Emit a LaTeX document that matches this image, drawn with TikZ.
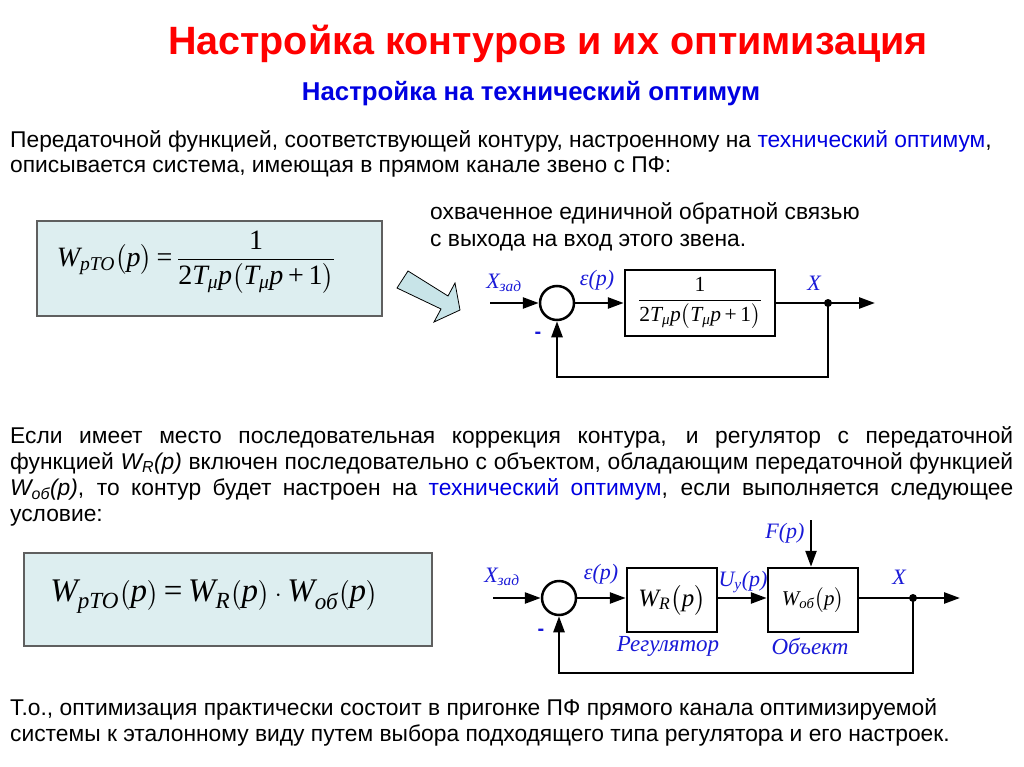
\documentclass[tikz,border=0pt]{standalone}
\usepackage{amsmath}
\usepackage{fontspec}
\setmainfont{Liberation Sans}
\newfontfamily\timesfont{Liberation Serif}
\usetikzlibrary{positioning,arrows.meta}
\definecolor{titlered}{RGB}{255,0,0}
\definecolor{headblue}{RGB}{0,0,225}
\definecolor{labelblue}{RGB}{25,25,215}
\definecolor{boxfill}{RGB}{221,238,240}
\definecolor{boxdraw}{RGB}{95,95,95}
\definecolor{arrowfill}{RGB}{200,228,232}
\newcommand{\tv}[1]{\text{\timesfont\itshape #1}}
\newcommand{\tu}[1]{\text{\timesfont #1}}
\newcommand{\tlabel}[1]{{\timesfont\itshape #1}}

\begin{document}
\begin{tikzpicture}[x=1pt,y=-1pt,
  every node/.style={inner sep=0pt},
  bodytext/.style={anchor=base west, font=\fontsize{22.8}{26}\selectfont},
  formulabox/.style={draw=boxdraw, fill=boxfill, line width=1.2pt},
  blockbox/.style={draw, line width=2.5pt, fill=white},
  sumnode/.style={circle, draw, line width=2.5pt, minimum size=34pt},
  sig/.style={line width=2.5pt, -{Triangle[length=16pt,width=11pt]}},
  lbl/.style={text=labelblue, font=\fontsize{22}{26}\selectfont},
]
\useasboundingbox (0,0) rectangle (1024,767);

% headings
\node[anchor=base, text=titlered, font=\fontsize{39.5}{44}\selectfont\bfseries]
  (title) at (548,55) {Настройка контуров и их оптимизация};
\node[anchor=base, text=headblue, font=\fontsize{25.8}{30}\selectfont\bfseries]
  (subtitle) at (531,101) {Настройка на технический оптимум};

% first paragraph
\node[bodytext] (parAa) at (10,148) {Передаточной функцией, соответствующей контуру, настроенному на \textcolor{headblue}{технический оптимум},};
\node[bodytext] (parAb) at (10,173) {описывается система, имеющая в прямом канале звено с ПФ:};
\node[bodytext] (noteA) at (430,220) {охваченное единичной обратной связью};
\node[bodytext] (noteB) at (430,247) {с выхода на вход этого звена.};

% formula box 1
\node[formulabox, minimum width=345pt, minimum height=95pt] (boxTO) at (209.5,268.5) {};
\node[font=\fontsize{28}{34}\selectfont] (formTO) at (196,262)
  {$\tv{W}_{\tv{pTO}}\bigl(\tv{p}\bigr)\tu{\,=\,}\dfrac{\tu{1}}{\tu{2}\tv{T}_{\tv{μ}}\tv{p}\bigl(\tv{T}_{\tv{μ}}\tv{p}\tu{\,+\,1}\bigr)}$};

% block arrow
\filldraw[fill=arrowfill, draw=black, line width=0.8pt]
  (397,288) -- (408,271) -- (448,296) -- (455,283) -- (460,310) -- (434,322) -- (441,309) -- cycle;

% first loop
\coordinate (inA) at (490,303);
\node[sumnode] (sumA) at (557,303) {};
\node[blockbox, minimum width=150pt, minimum height=66pt, font=\fontsize{21.5}{24}\selectfont] (plantA) at (700,303)
  {$\dfrac{\tu{1}}{\tu{2}\tv{T}_{\tv{μ}}\tv{p}\bigl(\tv{T}_{\tv{μ}}\tv{p}\tu{\,+\,1}\bigr)}$};
\coordinate (tapA) at (828,303);
\coordinate (outA) at (875,303);
\coordinate (lowA) at (828,377);
\draw[sig] (inA) -- (sumA.west);
\draw[sig] (sumA.east) -- (plantA.west);
\draw[sig] (plantA.east) -- (outA);
\draw[sig] (tapA) -- (lowA) -| (sumA.south);
\fill (tapA) circle (4pt);
\node[lbl] (xzadA) at (504,283) {\tlabel{X}\textsubscript{\tlabel{зад}}};
\node[lbl] (epsA) at (597,280) {\tlabel{ε(p)}};
\node[lbl] (xA) at (814,283) {\tlabel{X}};
\node[lbl, font=\fontsize{20}{24}\selectfont\bfseries] (minusA) at (538,335) {-};

% second paragraph
\node[bodytext] (parBa) at (10,443) {\makebox[1003pt][s]{Если имеет место последовательная коррекция контура, и регулятор с передаточной}};
\node[bodytext] (parBb) at (10,469) {\makebox[1003pt][s]{функцией {\itshape W\textsubscript{R}(p)} включен последовательно с объектом, обладающим передаточной функцией}};
\node[bodytext] (parBc) at (10,495) {\makebox[1003pt][s]{{\itshape W\textsubscript{об}(p)}, то контур будет настроен на \textcolor{headblue}{технический оптимум}, если выполняется следующее}};
\node[bodytext] (parBd) at (10,521) {условие:};

% formula box 2
\node[formulabox, minimum width=408pt, minimum height=93pt] (boxRO) at (228,599.5) {};
\node[font=\fontsize{33}{38}\selectfont] (formRO) at (214,597)
  {$\tv{W}_{\tv{pTO}}\bigl(\tv{p}\bigr)\tu{\,=\,}\tv{W}_{\tv{R}}\bigl(\tv{p}\bigr)\cdot\tv{W}_{\tv{об}}\bigl(\tv{p}\bigr)$};

% second loop
\coordinate (inB) at (493,598);
\node[sumnode] (sumB) at (559,598) {};
\node[blockbox, minimum width=90pt, minimum height=64pt, font=\fontsize{25}{28}\selectfont] (reg) at (672,600)
  {$\tv{W}_{\tv{R}}\bigl(\tv{p}\bigr)$};
\node[blockbox, minimum width=90pt, minimum height=64pt, font=\fontsize{21}{24}\selectfont] (obj) at (813,600)
  {$\tv{W}_{\tv{об}}\bigl(\tv{p}\bigr)$};
\coordinate (dist) at (811,520);
\coordinate (tapB) at (913,598);
\coordinate (outB) at (960,598);
\coordinate (lowB) at (913,673);
\draw[sig] (inB) -- (sumB.west);
\draw[sig] (sumB.east) -- (sumB.east -| reg.west);
\draw[sig] (reg.east |- sumB) -- (obj.west |- sumB);
\draw[sig] (dist) -- (dist |- obj.north);
\draw[sig] (obj.east |- sumB) -- (outB);
\draw[sig] (tapB) -- (lowB) -| (sumB.south);
\fill (tapB) circle (4pt);
\node[lbl] (xzadB) at (502,577) {\tlabel{X}\textsubscript{\tlabel{зад}}};
\node[lbl] (epsB) at (601,574) {\tlabel{ε(p)}};
\node[lbl] (uB) at (743,582) {\tlabel{U}\textsubscript{\tlabel{у}}\tlabel{(p)}};
\node[lbl] (fB) at (785,533) {\tlabel{F(p)}};
\node[lbl] (xB) at (899,577) {\tlabel{X}};
\node[lbl, font=\fontsize{20}{24}\selectfont\bfseries] (minusB) at (541,632) {-};
\node[lbl, font=\fontsize{23}{26}\selectfont] (regname) at (668,646) {\tlabel{Регулятор}};
\node[lbl, font=\fontsize{23}{26}\selectfont] (objname) at (810,646) {\tlabel{Объект}};

% third paragraph
\node[bodytext] (parCa) at (10,715) {Т.о., оптимизация практически состоит в пригонке ПФ прямого канала оптимизируемой};
\node[bodytext] (parCb) at (10,741) {системы к эталонному виду путем выбора подходящего типа регулятора и его настроек.};
\end{tikzpicture}
\end{document}
